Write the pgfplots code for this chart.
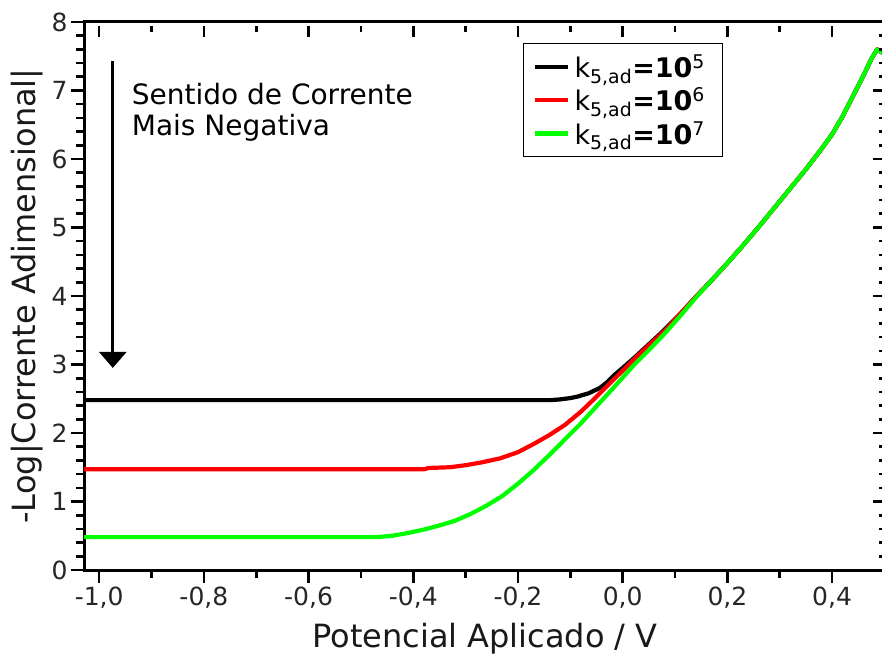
\documentclass[border=0pt]{standalone}
\usepackage{fontspec}
\setmainfont{DejaVu Sans}
\usepackage{pgfplots}
\pgfplotsset{compat=1.18}
\usetikzlibrary{arrows.meta}

\pgfplotstableread{
x y
-1.029 2.48
-0.150 2.48
-0.138 2.48
-0.120 2.49
-0.100 2.51
-0.087 2.53
-0.065 2.58
-0.043 2.66
-0.030 2.74
-0.017 2.84
0.000 2.95
0.021 3.09
0.045 3.26
0.072 3.45
0.110 3.74
0.140 3.99
0.170 4.23
0.200 4.48
0.230 4.74
0.260 5.01
0.290 5.29
0.320 5.57
0.350 5.85
0.380 6.15
0.400 6.36
0.420 6.62
0.440 6.92
0.460 7.22
0.475 7.46
0.486 7.60
0.497 7.55
}\blacktab

\pgfplotstableread{
x y
-1.029 1.47
-0.380 1.47
-0.370 1.49
-0.330 1.50
-0.300 1.53
-0.270 1.57
-0.234 1.63
-0.200 1.72
-0.170 1.84
-0.140 1.97
-0.110 2.12
-0.080 2.31
-0.050 2.53
-0.020 2.76
0.000 2.91
0.021 3.07
0.050 3.28
0.080 3.49
0.110 3.74
0.140 3.99
0.170 4.23
0.200 4.48
0.230 4.74
0.260 5.01
0.290 5.29
0.320 5.57
0.350 5.85
0.380 6.15
0.400 6.36
0.420 6.62
0.440 6.92
0.460 7.22
0.475 7.46
0.486 7.60
0.497 7.55
}\redtab

\pgfplotstableread{
x y
-1.029 0.48
-0.470 0.48
-0.440 0.50
-0.410 0.54
-0.380 0.59
-0.350 0.65
-0.320 0.72
-0.290 0.82
-0.260 0.94
-0.230 1.08
-0.200 1.26
-0.170 1.46
-0.140 1.68
-0.110 1.91
-0.080 2.14
-0.050 2.39
-0.020 2.64
0.000 2.81
0.020 2.98
0.050 3.21
0.080 3.45
0.110 3.71
0.140 3.98
0.170 4.23
0.200 4.48
0.230 4.74
0.260 5.01
0.290 5.29
0.320 5.57
0.350 5.85
0.380 6.15
0.400 6.36
0.420 6.62
0.440 6.92
0.460 7.22
0.475 7.46
0.486 7.60
0.497 7.55
}\greentab

\pgfplotsset{
  base/.style={
    scale only axis, width=802pt, height=548pt,
    xmin=-1.029, xmax=0.503, ymin=0, ymax=8,
    xtick={-1,-0.8,-0.6,-0.4,-0.2,0,0.2,0.4},
    ytick={0,1,2,3,4,5,6,7,8},
  }
}

\begin{document}
\begin{tikzpicture}
\begin{axis}[base, name=main,
  axis line style={line width=3pt},
  tick align=outside, xtick pos=left, ytick pos=left,
  major tick length=13pt, minor tick length=8pt,
  tick style={black, line width=2.6pt},
  minor x tick num=1, minor y tick num=4,
  /pgf/number format/assume math mode=true,
  xticklabel style={/pgf/number format/.cd, fixed, fixed zerofill, precision=1, use comma},
  ticklabel style={font=\fontsize{25}{30}\selectfont, text=black!85},
  xlabel={Potencial Aplicado / V},
  ylabel={-Log|Corrente Adimensional|},
  label style={font=\fontsize{32}{38}\selectfont, text=black!90},
  xlabel style={at={(axis description cs:0.5,-0.1405)}, anchor=base},
  ylabel style={at={(axis description cs:-0.0599,0.5)}, anchor=base},
  legend style={at={(axis description cs:0.5474,0.9617)}, anchor=north west,
    draw=black, line width=1pt, fill=white,
    font=\fontsize{27}{32}\selectfont, inner xsep=11pt, inner ysep=9pt,
    row sep=5pt, nodes={inner xsep=7pt}},
  legend cell align=left,
  legend image code/.code={\fill[#1, draw=none] (0pt,-2.1pt) rectangle (33pt,2.1pt);},
]
\addplot[black, line width=4.2pt, line join=round] table {\blacktab};
\addlegendentry{k\textsubscript{5,ad}\textbf{=10}\textsuperscript{5}}
\addplot[red, line width=4.2pt, line join=round] table {\redtab};
\addlegendentry{k\textsubscript{5,ad}\textbf{=10}\textsuperscript{6}}
\addplot[green, line width=4.2pt, line join=round] table {\greentab};
\addlegendentry{k\textsubscript{5,ad}\textbf{=10}\textsuperscript{7}}

\draw[line width=3pt, -{Triangle[width=27pt,length=16pt]}] (axis cs:-0.974,7.43) -- (axis cs:-0.974,2.95);
\node[anchor=base west, font=\fontsize{28}{33}\selectfont, inner sep=0pt] at (axis cs:-0.938,6.79) {Sentido de Corrente};
\node[anchor=base west, font=\fontsize{28}{33}\selectfont, inner sep=0pt] at (axis cs:-0.938,6.35) {Mais Negativa};
\end{axis}

\begin{axis}[base, axis line style={draw=none},
  tick align=inside, xtick pos=right, ytick=\empty,
  xticklabels={}, minor x tick num=1,
  major tick length=11pt, minor tick length=6pt,
  tick style={black, line width=2.6pt, yshift=-4pt}]
\end{axis}

\begin{axis}[base, axis line style={draw=none},
  tick align=inside, ytick pos=right, xtick=\empty,
  yticklabels={}, minor y tick num=4,
  major tick length=9pt, minor tick length=3pt,
  tick style={black, line width=2.6pt, xshift=-4pt}]
\end{axis}

\pgfresetboundingbox
\path ([shift={(-84pt,-83pt)}]main.south west) rectangle ([shift={(-4pt,22pt)}]main.north east);
\end{tikzpicture}
\end{document}
